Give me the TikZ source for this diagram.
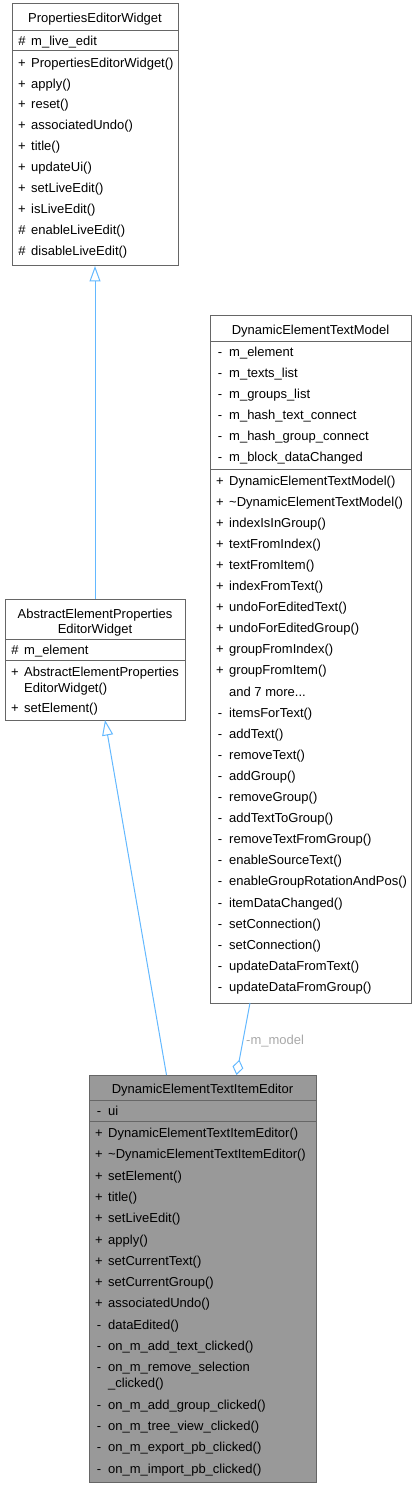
\documentclass[tikz,border=0pt]{standalone}
\usepackage{fontspec}
\setmainfont{Liberation Sans}
\usetikzlibrary{arrows.meta,calc}
\definecolor{edgeblue}{HTML}{63B8FF}
\definecolor{boxborder}{HTML}{666666}
\definecolor{curfill}{HTML}{999999}
\definecolor{lblgrey}{HTML}{A8A8A8}
\newcommand{\mrow}[5]{\node[sym] (#1s) at ({#2+10},{#3+4.5}) {#4};\node[txt] (#1) at ({#2+19},{#3+4.5}) {#5};}
\newcommand{\crow}[4]{\node[txt] (#1) at ({#2+19},{#3+4.5}) {#4};}
\begin{document}
\begin{tikzpicture}[x=1pt,y=-1pt,
  cls/.style={draw=boxborder,line width=1pt,fill=white,inner sep=0pt,outer sep=0pt},
  curcls/.style={cls,fill=curfill},
  sepline/.style={draw=boxborder,line width=1pt},
  txt/.style={anchor=base west,inner sep=0pt,font=\fontsize{13}{15}\selectfont},
  sym/.style={anchor=base,inner sep=0pt,font=\fontsize{13}{15}\selectfont},
  ttl/.style={anchor=base,inner sep=0pt,font=\fontsize{13}{15}\selectfont},
  inherit/.style={draw=edgeblue,line width=1pt,-{Triangle[open,length=15.5pt,width=11pt]}},
  aggr/.style={draw=edgeblue,line width=1pt,-{Diamond[open,length=15.5pt,width=11pt]}},
  lbl/.style={anchor=west,inner sep=0pt,text=lblgrey,font=\fontsize{13}{15}\selectfont}]
\useasboundingbox (0,0) rectangle (415,1487);

% ---------- PropertiesEditorWidget ----------
\node[cls,minimum width=166pt,minimum height=262pt] (pew) at (95,135) {};
\draw[sepline] ($(pew.north west)+(0,27)$) -- ($(pew.north east)+(0,27)$);
\draw[sepline] ($(pew.north west)+(0,47)$) -- ($(pew.north east)+(0,47)$);
\node[ttl] (pewt) at (95,{18+4.5}) {PropertiesEditorWidget};
\mrow{pa1}{12}{41}{\#}{m\_live\_edit}
\mrow{pm1}{12}{62.7}{+}{PropertiesEditorWidget()}
\mrow{pm2}{12}{83.6}{+}{apply()}
\mrow{pm3}{12}{104.5}{+}{reset()}
\mrow{pm4}{12}{125.4}{+}{associatedUndo()}
\mrow{pm5}{12}{146.3}{+}{title()}
\mrow{pm6}{12}{167.2}{+}{updateUi()}
\mrow{pm7}{12}{188.1}{+}{setLiveEdit()}
\mrow{pm8}{12}{209}{+}{isLiveEdit()}
\mrow{pm9}{12}{229.9}{\#}{enableLiveEdit()}
\mrow{pm10}{12}{250.8}{\#}{disableLiveEdit()}

% ---------- AbstractElementPropertiesEditorWidget ----------
\node[cls,minimum width=180pt,minimum height=121pt] (aepw) at (95,659.5) {};
\draw[sepline] ($(aepw.north west)+(0,40.5)$) -- ($(aepw.north east)+(0,40.5)$);
\draw[sepline] ($(aepw.north west)+(0,61)$) -- ($(aepw.north east)+(0,61)$);
\node[ttl] (aepwt1) at (95,{613.5+4.5}) {AbstractElementProperties};
\node[ttl] (aepwt2) at (95,{628.5+4.5}) {EditorWidget};
\mrow{aa1}{5}{650}{\#}{m\_element}
\mrow{am1}{5}{672}{+}{AbstractElementProperties}
\crow{am1b}{5}{687.5}{EditorWidget()}
\mrow{am2}{5}{708}{+}{setElement()}

% ---------- DynamicElementTextModel ----------
\node[cls,minimum width=201pt,minimum height=688pt] (detm) at (310.5,659) {};
\draw[sepline] ($(detm.north west)+(0,26)$) -- ($(detm.north east)+(0,26)$);
\draw[sepline] ($(detm.north west)+(0,154)$) -- ($(detm.north east)+(0,154)$);
\node[ttl] (detmt) at (310.5,{330+4.5}) {DynamicElementTextModel};
\mrow{da1}{210}{351.5}{-}{m\_element}
\mrow{da2}{210}{372.6}{-}{m\_texts\_list}
\mrow{da3}{210}{393.7}{-}{m\_groups\_list}
\mrow{da4}{210}{414.8}{-}{m\_hash\_text\_connect}
\mrow{da5}{210}{435.9}{-}{m\_hash\_group\_connect}
\mrow{da6}{210}{457.0}{-}{m\_block\_dataChanged}
\mrow{dm1}{210}{480.5}{+}{DynamicElementTextModel()}
\mrow{dm2}{210}{501.6}{+}{\textasciitilde DynamicElementTextModel()}
\mrow{dm3}{210}{522.7}{+}{indexIsInGroup()}
\mrow{dm4}{210}{543.8}{+}{textFromIndex()}
\mrow{dm5}{210}{564.9}{+}{textFromItem()}
\mrow{dm6}{210}{586.0}{+}{indexFromText()}
\mrow{dm7}{210}{607.1}{+}{undoForEditedText()}
\mrow{dm8}{210}{628.2}{+}{undoForEditedGroup()}
\mrow{dm9}{210}{649.3}{+}{groupFromIndex()}
\mrow{dm10}{210}{670.4}{+}{groupFromItem()}
\crow{dm11}{210}{691.5}{and 7 more...}
\mrow{dm12}{210}{712.6}{-}{itemsForText()}
\mrow{dm13}{210}{733.7}{-}{addText()}
\mrow{dm14}{210}{754.8}{-}{removeText()}
\mrow{dm15}{210}{775.9}{-}{addGroup()}
\mrow{dm16}{210}{797.0}{-}{removeGroup()}
\mrow{dm17}{210}{818.1}{-}{addTextToGroup()}
\mrow{dm18}{210}{839.2}{-}{removeTextFromGroup()}
\mrow{dm19}{210}{860.3}{-}{enableSourceText()}
\mrow{dm20}{210}{881.4}{-}{enableGroupRotationAndPos()}
\mrow{dm21}{210}{902.5}{-}{itemDataChanged()}
\mrow{dm22}{210}{923.6}{-}{setConnection()}
\mrow{dm23}{210}{944.7}{-}{setConnection()}
\mrow{dm24}{210}{965.8}{-}{updateDataFromText()}
\mrow{dm25}{210}{986.9}{-}{updateDataFromGroup()}

% ---------- DynamicElementTextItemEditor ----------
\node[curcls,minimum width=227pt,minimum height=407pt] (deie) at (202.5,1278.5) {};
\draw[sepline] ($(deie.north west)+(0,25)$) -- ($(deie.north east)+(0,25)$);
\draw[sepline] ($(deie.north west)+(0,46)$) -- ($(deie.north east)+(0,46)$);
\node[ttl] (deiet) at (202.5,{1089+4.5}) {DynamicElementTextItemEditor};
\mrow{ea1}{89}{1111}{-}{ui}
\mrow{em1}{89}{1133}{+}{DynamicElementTextItemEditor()}
\mrow{em2}{89}{1154.3}{+}{\textasciitilde DynamicElementTextItemEditor()}
\mrow{em3}{89}{1175.6}{+}{setElement()}
\mrow{em4}{89}{1196.9}{+}{title()}
\mrow{em5}{89}{1218.2}{+}{setLiveEdit()}
\mrow{em6}{89}{1239.5}{+}{apply()}
\mrow{em7}{89}{1260.8}{+}{setCurrentText()}
\mrow{em8}{89}{1282.1}{+}{setCurrentGroup()}
\mrow{em9}{89}{1303.4}{+}{associatedUndo()}
\mrow{em10}{89}{1324.7}{-}{dataEdited()}
\mrow{em11}{89}{1346.0}{-}{on\_m\_add\_text\_clicked()}
\mrow{em12}{89}{1367.3}{-}{on\_m\_remove\_selection}
\crow{em12b}{89}{1383.3}{\_clicked()}
\mrow{em13}{89}{1404.8}{-}{on\_m\_add\_group\_clicked()}
\mrow{em14}{89}{1426.1}{-}{on\_m\_tree\_view\_clicked()}
\mrow{em15}{89}{1447.4}{-}{on\_m\_export\_pb\_clicked()}
\mrow{em16}{89}{1468.7}{-}{on\_m\_import\_pb\_clicked()}

% ---------- connectors ----------
\draw[inherit] (aepw.north) -- (pew.south);
\draw[inherit] ($(deie.north west)+(77.5,0)$) -- ($(aepw.south west)+(100,0)$);
\draw[aggr] ($(detm.south west)+(40,0)$) -- ($(deie.north west)+(147.5,0)$);
\node[lbl] (mmodel) at (246,1040.7) {-m\_model};
\end{tikzpicture}
\end{document}
